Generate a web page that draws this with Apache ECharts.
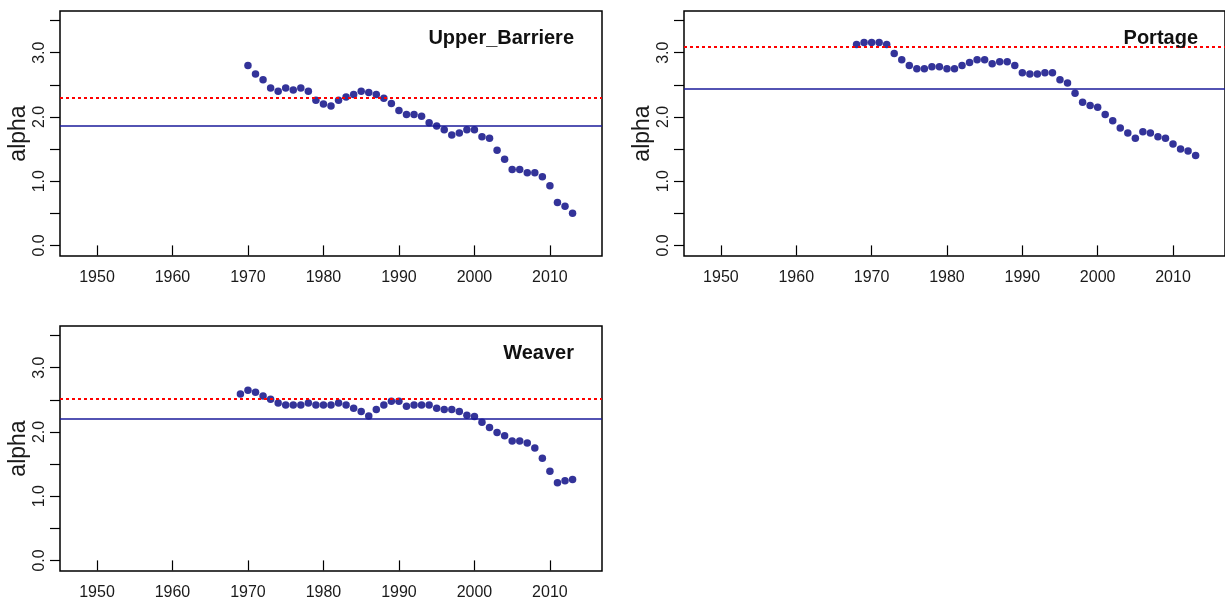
<!DOCTYPE html>
<html>
<head>
<meta charset="utf-8">
<script src="https://cdn.jsdelivr.net/npm/echarts@6/dist/echarts.min.js"></script>
<style>
html,body{margin:0;padding:0;background:#fff;}
#chart{width:1225px;height:601px;}
</style>
</head>
<body>
<div id="chart"></div>
<script>
// ---- data ----
const panelNames = ["Upper_Barriere", "Portage", "Weaver"];

const ubYears = [1970,1971,1972,1973,1974,1975,1976,1977,1978,1979,1980,1981,1982,1983,1984,1985,1986,1987,1988,1989,1990,1991,1992,1993,1994,1995,1996,1997,1998,1999,2000,2001,2002,2003,2004,2005,2006,2007,2008,2009,2010,2011,2012,2013];
const ubAlpha = [2.80,2.67,2.58,2.45,2.40,2.45,2.42,2.45,2.40,2.26,2.20,2.17,2.26,2.31,2.35,2.40,2.38,2.35,2.29,2.21,2.10,2.04,2.04,2.01,1.91,1.86,1.80,1.72,1.75,1.80,1.80,1.69,1.67,1.48,1.34,1.18,1.18,1.13,1.13,1.07,0.93,0.67,0.61,0.50];

const poYears = [1968,1969,1970,1971,1972,1973,1974,1975,1976,1977,1978,1979,1980,1981,1982,1983,1984,1985,1986,1987,1988,1989,1990,1991,1992,1993,1994,1995,1996,1997,1998,1999,2000,2001,2002,2003,2004,2005,2006,2007,2008,2009,2010,2011,2012,2013];
const poAlpha = [3.13,3.16,3.16,3.16,3.13,2.99,2.89,2.80,2.75,2.75,2.78,2.78,2.75,2.75,2.80,2.85,2.89,2.89,2.83,2.86,2.86,2.80,2.69,2.67,2.67,2.69,2.69,2.58,2.53,2.37,2.23,2.18,2.15,2.04,1.94,1.83,1.75,1.67,1.77,1.75,1.69,1.67,1.58,1.50,1.47,1.40];

const weYears = [1969,1970,1971,1972,1973,1974,1975,1976,1977,1978,1979,1980,1981,1982,1983,1984,1985,1986,1987,1988,1989,1990,1991,1992,1993,1994,1995,1996,1997,1998,1999,2000,2001,2002,2003,2004,2005,2006,2007,2008,2009,2010,2011,2012,2013];
const weAlpha = [2.59,2.65,2.62,2.56,2.51,2.45,2.42,2.42,2.42,2.45,2.42,2.42,2.42,2.45,2.42,2.37,2.32,2.25,2.35,2.42,2.48,2.48,2.40,2.42,2.42,2.42,2.37,2.35,2.35,2.32,2.26,2.24,2.15,2.07,1.99,1.94,1.86,1.86,1.83,1.75,1.59,1.39,1.21,1.24,1.26];

const redLines  = [2.30, 3.09, 2.52];   // dotted red reference
const blueLines = [1.87, 2.44, 2.20];   // solid blue reference

const xTicks = [1950,1960,1970,1980,1990,2000,2010];
const yTicks = [0,0.5,1,1.5,2,2.5,3,3.5];
const yLabels = [0,1,2,3];

// ---- chart ----
const FONT = "'Liberation Sans', Arial, sans-serif";
const grids = [
  {left: 60,  top: 11,  width: 542, height: 245},
  {left: 684, top: 11,  width: 542, height: 245},
  {left: 60,  top: 326, width: 542, height: 246}
];
const years = [ubYears, poYears, weYears];
const vals = [ubAlpha, poAlpha, weAlpha];

const option = {
  animation: false,
  backgroundColor: '#ffffff',
  title: panelNames.map((n, i) => ({
    text: n,
    right: 1225 - (grids[i].left + grids[i].width) + 23,
    top: grids[i].top + 12,
    textStyle: {fontFamily: FONT, fontSize: 20, fontWeight: 'bold', color: '#111'}
  })),
  grid: grids.map(g => Object.assign({show: true, borderColor: '#000', borderWidth: 1.5, backgroundColor: 'transparent'}, g)),
  xAxis: grids.map((g, i) => ({
    type: 'value', gridIndex: i, min: 1945.1, max: 2016.9,
    axisLine: {show: false},
    splitLine: {show: false},
    axisTick: {show: true, length: 10, customValues: xTicks, lineStyle: {color: '#000', width: 1.2}},
    axisLabel: {customValues: xTicks, margin: 14, fontFamily: FONT, fontSize: 16, color: '#1a1a1a', formatter: v => String(Math.round(v))}
  })),
  yAxis: grids.map((g, i) => ({
    type: 'value', gridIndex: i, min: -0.165, max: 3.65,
    name: 'alpha', nameLocation: 'middle', nameGap: 30, nameRotate: 90,
    nameTextStyle: {fontFamily: FONT, fontSize: 23, color: '#1a1a1a'},
    axisLine: {show: false},
    splitLine: {show: false},
    axisTick: {show: true, length: 10, customValues: yTicks, lineStyle: {color: '#000', width: 1.2}},
    axisLabel: {customValues: yLabels, rotate: 90, margin: 12, fontFamily: FONT, fontSize: 16, color: '#1a1a1a', formatter: v => v.toFixed(1)}
  })),
  series: panelNames.map((n, i) => ({
    name: n, type: 'scatter', xAxisIndex: i, yAxisIndex: i,
    symbol: 'circle', symbolSize: 7.5,
    itemStyle: {color: '#000080'},
    data: years[i].map((y, k) => [y, vals[i][k]]),
    markLine: {
      silent: true, symbol: 'none', label: {show: false},
      data: [
        {yAxis: redLines[i], lineStyle: {color: '#ff0000', type: [3, 3], width: 2}},
        {yAxis: blueLines[i], lineStyle: {color: '#1a1a9a', type: 'solid', width: 1.6}}
      ]
    }
  }))
};
const chart = echarts.init(document.getElementById('chart'), null, {renderer: 'canvas'});
chart.setOption(option);
</script>
</body>
</html>
